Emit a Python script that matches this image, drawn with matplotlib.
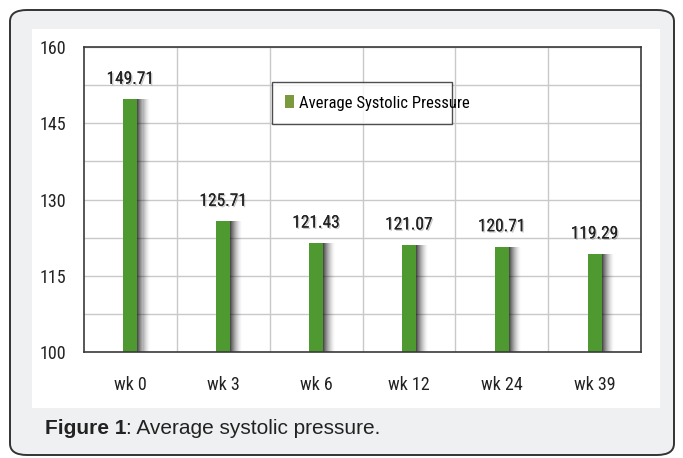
import matplotlib
matplotlib.use("Agg")
import matplotlib.pyplot as plt
import matplotlib.patheffects as pe
from matplotlib.patches import FancyBboxPatch, Patch
import numpy as np

# data
weeks = ["wk 0", "wk 3", "wk 6", "wk 12", "wk 24", "wk 39"]
systolic = [149.71, 125.71, 121.43, 121.07, 120.71, 119.29]
value_labels = ["149.71", "125.71", "121.43", "121.07", "120.71", "119.29"]
yticks = [100, 115, 130, 145, 160]
series_name = "Average Systolic Pressure"
caption_bold = "Figure 1"
caption_rest = ": Average systolic pressure."

narrow = ["Liberation Sans Narrow", "Roboto Condensed", "Archivo Narrow", "DejaVu Sans"]
bar_color = "#4f9a30"
legend_color = "#7b9a3e"

W, H = 683, 458
fig = plt.figure(figsize=(W / 100, H / 100), dpi=100)
fig.patch.set_facecolor("white")

# outer rounded panel
panel = FancyBboxPatch((10 / W, 3 / H), 664 / W, 445 / H,
                       boxstyle="round,pad=0,rounding_size=0.025",
                       transform=fig.transFigure, facecolor="#eff0f2",
                       edgecolor="#333333", linewidth=1.4, zorder=-10)
fig.patches.append(panel)

# white chart area
bg = fig.add_axes([32 / W, (H - 408) / H, 628 / W, 379 / H])
bg.set_facecolor("white")
bg.set_xticks([]); bg.set_yticks([])
for s in bg.spines.values():
    s.set_visible(False)

ax = fig.add_axes([84 / W, (H - 352) / H, 557 / W, 305 / H])
x = np.arange(len(weeks))
ax.set_xlim(-0.5, len(weeks) - 0.5)
ax.set_ylim(100, 160)

# grid: horizontal every 7.5, vertical between categories
for yv in np.arange(100, 160.1, 7.5):
    ax.axhline(yv, color="#c9c9c9", lw=1.0, zorder=1)
for xv in np.arange(0.5, len(weeks) - 0.5, 1):
    ax.axvline(xv, color="#c9c9c9", lw=1.0, zorder=1)

bw = 0.15
heights = np.array(systolic) - 100
# soft shadow on the right side of each bar
for k in range(12):
    ax.bar(x + bw / 2 + (k + 0.5) * 0.011, heights, width=0.011, bottom=100,
           color="black", alpha=0.7 * (1 - k / 12) ** 1.6, zorder=2, linewidth=0)
ax.bar(x, heights, width=bw, bottom=100, color=bar_color, zorder=3, linewidth=0)

for xi, v, lab in zip(x, systolic, value_labels):
    ax.annotate(lab, (xi, v), xytext=(0, 9), textcoords="offset points",
                ha="center", va="bottom", fontsize=12.5, family=narrow,
                color="#222222", zorder=5,
                path_effects=[pe.withSimplePatchShadow(offset=(1.0, -1.0), alpha=0.22),
                              pe.Normal()])

ax.set_xticks(x)
ax.set_xticklabels(weeks, family=narrow, fontsize=13, color="#222222")
ax.set_yticks(yticks)
ax.set_yticklabels([str(t) for t in yticks], family=narrow, fontsize=13, color="#222222")
ax.tick_params(axis="both", length=0)
ax.tick_params(axis="x", pad=17)
ax.tick_params(axis="y", pad=13)
for s in ax.spines.values():
    s.set_color("#3a3a3a")
    s.set_linewidth(1.2)
    s.set_zorder(4)

handle = Patch(facecolor=legend_color, edgecolor="none")
leg = ax.legend([handle], [series_name], loc="upper left",
                bbox_to_anchor=(0.3375, 0.741, 0.3235, 0.144), mode="expand",
                prop={"family": narrow, "size": 12},
                frameon=True, fancybox=False, borderpad=0.8, handlelength=0.55,
                handleheight=0.8, handletextpad=0.25, borderaxespad=0)
leg.get_frame().set_edgecolor("#222222")
leg.get_frame().set_linewidth(1.0)
leg.set_zorder(6)

t1 = fig.text(45 / W, (H - 434) / H, caption_bold, fontsize=15, fontweight="bold",
              family="Liberation Sans", color="#222222", va="baseline")
bg.annotate(caption_rest, xy=(1, 0), xycoords=t1, va="bottom", ha="left",
            fontsize=15, family="Liberation Sans", color="#222222",
            annotation_clip=False)

fig.savefig("out.png", dpi=100)
